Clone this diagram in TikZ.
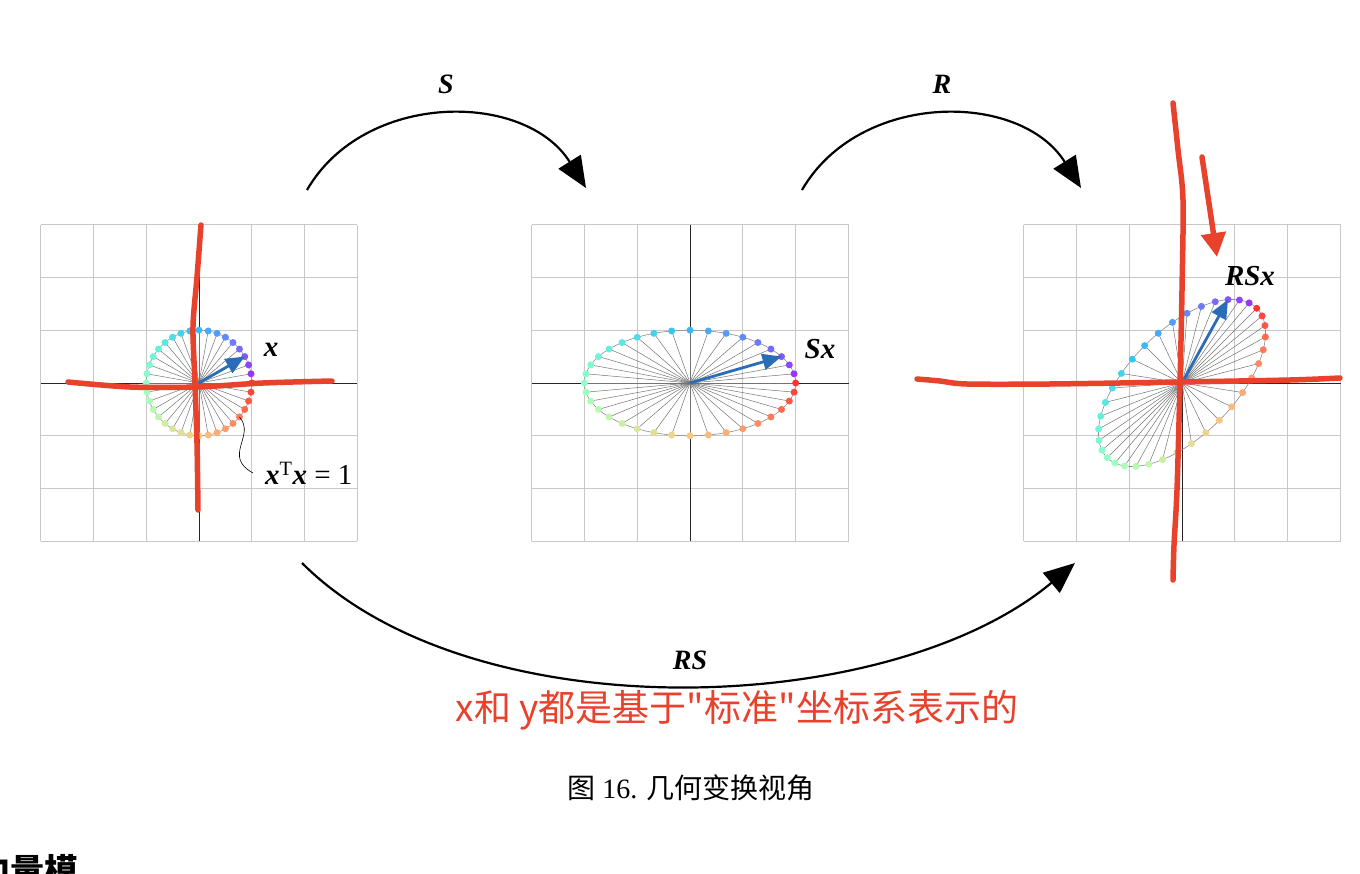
\documentclass[tikz,border=0pt]{standalone}
\usepackage{fontspec}
\setmainfont{Liberation Serif}
\newfontfamily\cjk{Noto Sans CJK SC}
\usepackage{tikz}
\usetikzlibrary{arrows.meta}
\definecolor{vecblue}{HTML}{2B6CB8}
\definecolor{penred}{HTML}{E8412C}
\definecolor{gridgray}{HTML}{C8C8C8}

% image of the unit circle under the matrix (#1 #2; #3 #4)
\newcommand{\unitmap}[4]{%
  \draw[outline] plot[domain=0:360, samples=121]
    ({#1*cos(\x)+#2*sin(\x)}, {#3*cos(\x)+#4*sin(\x)}) -- cycle;
  \foreach \k in {0,...,35}{
    \pgfmathsetmacro{\ang}{10*(\k+1)}
    \pgfmathsetmacro{\tval}{\k/35}
    \pgfmathsetmacro{\rc}{min(1,abs(2*\tval-0.5))}
    \pgfmathsetmacro{\gc}{sin(180*\tval)}
    \pgfmathsetmacro{\bc}{max(0,cos(90*\tval))}
    \definecolor{spokec}{rgb}{\rc,\gc,\bc}
    \pgfmathsetmacro{\px}{#1*cos(\ang)+#2*sin(\ang)}
    \pgfmathsetmacro{\py}{#3*cos(\ang)+#4*sin(\ang)}
    \draw[spoke] (0,0) -- (\px,\py);
    \fill[spokec!80!white] (\px,\py) circle[radius=3.5pt];
  }%
}

\begin{document}
\begin{tikzpicture}[
  x=1pt, y=-1pt,
  gridline/.style={draw=gridgray, line width=0.8pt},
  axisline/.style={draw=black!85, line width=0.8pt},
  outline/.style={draw=black!45, line width=0.6pt},
  spoke/.style={draw=black!55, line width=0.5pt},
  vecarrow/.style={draw=vecblue, line width=2.8pt, -{Triangle[length=19pt, width=16pt]}},
  maparrow/.style={draw=black, line width=2.2pt, -{Triangle[length=31pt, width=26pt]}},
  maplabel/.style={font=\fontsize{28}{32}\selectfont\bfseries\itshape, inner sep=0pt},
  veclabel/.style={font=\fontsize{29}{32}\selectfont\bfseries\itshape, inner sep=0pt},
  penstroke/.style={draw=penred, line width=5.5pt, line cap=round, line join=round},
]
  \useasboundingbox (0,0) rectangle (1360,874);

  % panel 1: unit circle
  \begin{scope}[shift={(199,383)}, x=52.83pt, y=52.83pt]
    \draw[gridline] (-3,-3) grid[step=1] (3,3);
    \draw[axisline] (-3,0) -- (3,0) (0,-3) -- (0,3);
    \unitmap{1}{0}{0}{1}
    \draw[vecarrow] (0,0) -- ({cos(30)},{sin(30)});
    \coordinate (leader) at ({cos(-40)},{sin(-40)});
  \end{scope}

  % panel 2: after S
  \begin{scope}[shift={(690,383)}, x=52.83pt, y=52.83pt]
    \draw[gridline] (-3,-3) grid[step=1] (3,3);
    \draw[axisline] (-3,0) -- (3,0) (0,-3) -- (0,3);
    \unitmap{2}{0}{0}{1}
    \draw[vecarrow] (0,0) -- ({2*cos(30)},{sin(30)});
  \end{scope}

  % panel 3: after R S
  \begin{scope}[shift={(1182,383)}, x=52.83pt, y=52.83pt]
    \draw[gridline] (-3,-3) grid[step=1] (3,3);
    \draw[axisline] (-3,0) -- (3,0) (0,-3) -- (0,3);
    \unitmap{1.4142}{-0.7071}{1.4142}{0.7071}
    \draw[vecarrow] (0,0) -- ({1.4142*cos(30)-0.7071*sin(30)},{1.4142*cos(30)+0.7071*sin(30)});
  \end{scope}

  \node[veclabel] (lbl-x) at (271,350) {x};
  \node[veclabel] (lbl-sx) at (820,349) {Sx};
  \node[veclabel] (lbl-rsx) at (1250,276) {RSx};
  \node[font=\fontsize{29}{32}\selectfont, inner sep=0pt, anchor=west] (lbl-unit) at (265,473)
    {{\bfseries\itshape x}\textsuperscript{T}{\bfseries\itshape x} = 1};
  \draw[black, line width=0.6pt] (leader) .. controls (256,436) and (222,456) .. ([xshift=-12pt]lbl-unit.west);

  % maps between the panels
  \coordinate (s-from) at (307,190);
  \coordinate (s-to) at (586,188);
  \coordinate (r-from) at (802,190);
  \coordinate (r-to) at (1081,188);
  \coordinate (rs-from) at (302,563);
  \coordinate (rs-to) at (1075,563);
  \draw[maparrow] (s-from) to[out=60, in=122, looseness=1.05] (s-to);
  \draw[maparrow] (r-from) to[out=60, in=122, looseness=1.05] (r-to);
  \draw[maparrow] (rs-from) to[out=-45, in=-140, looseness=0.8] (rs-to);
  \node[maplabel] (lbl-s) at (446,84) {S};
  \node[maplabel] (lbl-r) at (942,84) {R};
  \node[maplabel] (lbl-rs) at (690,660) {RS};

  % hand-drawn marks
  \draw[penstroke] plot[smooth] coordinates {(201,225) (197,277) (193,327) (195,383) (197,443) (198,510)};
  \draw[penstroke] plot[smooth] coordinates {(68,382) (130,387) (197,387) (263,383) (332,381)};
  \draw[penstroke] plot[smooth] coordinates {(1173,103) (1178,150) (1183,200) (1182,290) (1180,383) (1177,490) (1174,545) (1173,580)};
  \draw[penstroke] plot[smooth] coordinates {(917,379) (940,381) (967,384) (1050,384) (1180,382) (1290,380) (1340,378)};
  \draw[penstroke, -{Triangle[length=24pt, width=24pt]}] (1202,157) -- (1217,257);

  \node[font=\cjk\fontsize{37}{42}\selectfont, text=penred, inner sep=0pt] (note) at (737,710)
    {x和 y都是基于"标准"坐标系表示的};
  \node[font=\fontsize{28}{32}\selectfont, inner sep=0pt] (caption) at (691,788)
    {{\cjk 图} 16. {\cjk 几何变换视角}};
  \node[font=\cjk\bfseries\fontsize{34}{40}\selectfont, inner sep=0pt, anchor=base west] (heading) at (-24,883)
    {向量模};
\end{tikzpicture}
\end{document}
